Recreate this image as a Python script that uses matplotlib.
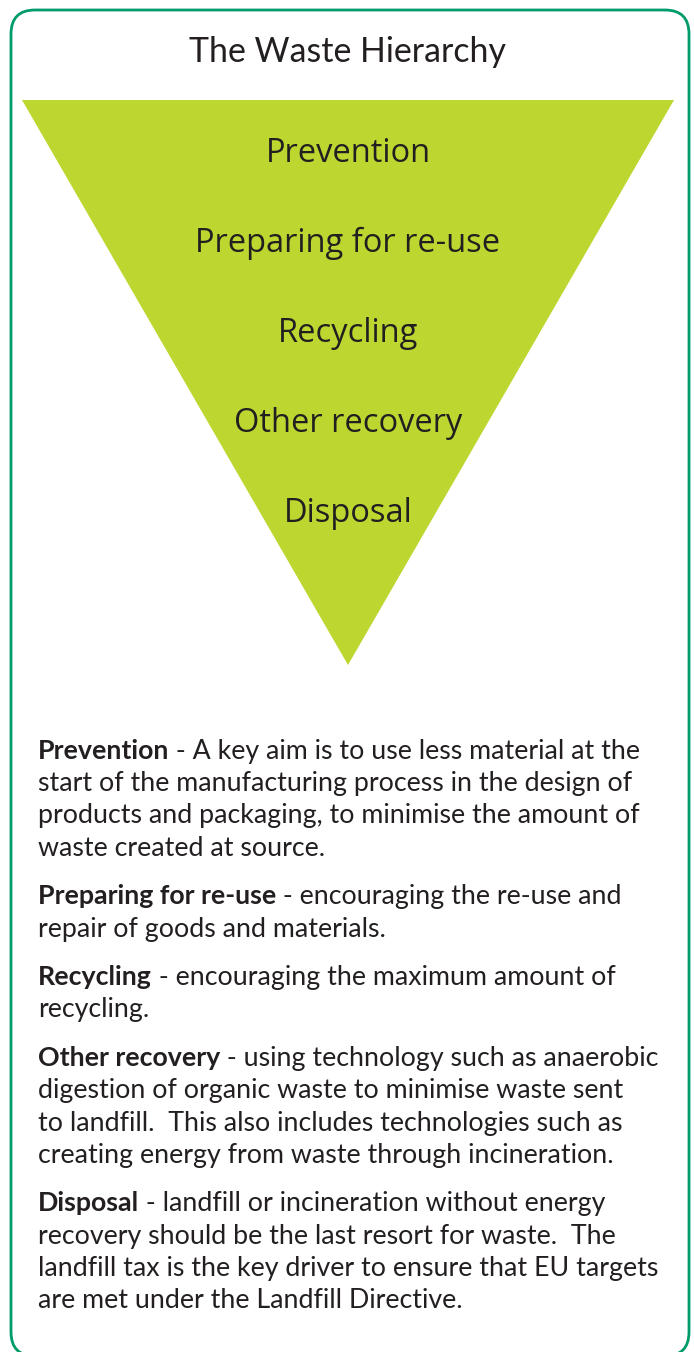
import matplotlib.pyplot as plt
from matplotlib.patches import FancyBboxPatch, Polygon

plt.rcParams['font.family'] = 'Lato'

TITLE = 'The Waste Hierarchy'
LEVELS = ['Prevention', 'Preparing for re-use', 'Recycling', 'Other recovery', 'Disposal']

# bold head, then lines of the paragraph (first line continues after the head)
PARAGRAPHS = [
    ('Prevention', [' - A key aim is to use less material at the',
                    'start of the manufacturing process in the design of',
                    'products and packaging, to minimise the amount of',
                    'waste created at source.']),
    ('Preparing for re-use', [' - encouraging the re-use and',
                              'repair of goods and materials.']),
    ('Recycling', [' - encouraging the maximum amount of',
                   'recycling.']),
    ('Other recovery', [' - using technology such as anaerobic',
                        'digestion of organic waste to minimise waste sent',
                        'to landfill.  This also includes technologies such as',
                        'creating energy from waste through incineration.']),
    ('Disposal', [' - landfill or incineration without energy',
                  'recovery should be the last resort for waste.  The',
                  'landfill tax is the key driver to ensure that EU targets',
                  'are met under the Landfill Directive.']),
]

TEXT_COLOR = '#231F20'
TRI_COLOR = '#BED730'
BORDER_COLOR = '#009B6B'

W, H = 694, 1352
fig = plt.figure(figsize=(W / 100, H / 100), dpi=100)
ax = fig.add_axes([0, 0, 1, 1])
ax.set_xlim(0, W)
ax.set_ylim(H, 0)
ax.axis('off')

# frame
frame = FancyBboxPatch((11, 10), 678, 1346, boxstyle='round,pad=0,rounding_size=24',
                       facecolor='white', edgecolor=BORDER_COLOR, linewidth=2.0)
ax.add_patch(frame)

ax.text(348, 62, TITLE, ha='center', va='baseline', fontsize=24.4, color=TEXT_COLOR)

# inverted triangle
tri_top, tri_left, tri_right, tri_apex = 100, 22, 674, 665
ax.add_patch(Polygon([(tri_left, tri_top), (tri_right, tri_top), ((tri_left + tri_right) / 2, tri_apex)],
                     closed=True, facecolor=TRI_COLOR, edgecolor='none'))

for i, name in enumerate(LEVELS):
    ax.text(348, 162 + 90 * i, name, ha='center', va='baseline', fontsize=23.5,
            family='Open Sans', color=TEXT_COLOR)

# descriptions
fig.canvas.draw()
renderer = fig.canvas.get_renderer()
x0 = 38
line_gap = 32.2
para_gap = 16.5
y = 759
body_size = 19.3
for head, lines in PARAGRAPHS:
    t = ax.text(x0, y, head, ha='left', va='baseline', fontsize=body_size,
                fontweight='bold', color=TEXT_COLOR)
    bb = t.get_window_extent(renderer)
    ax.text(x0 + bb.width, y, lines[0], ha='left', va='baseline', fontsize=body_size,
            color=TEXT_COLOR)
    for ln in lines[1:]:
        y += line_gap
        ax.text(x0, y, ln, ha='left', va='baseline', fontsize=body_size, color=TEXT_COLOR)
    y += line_gap + para_gap

fig.savefig('out.png', dpi=100)
